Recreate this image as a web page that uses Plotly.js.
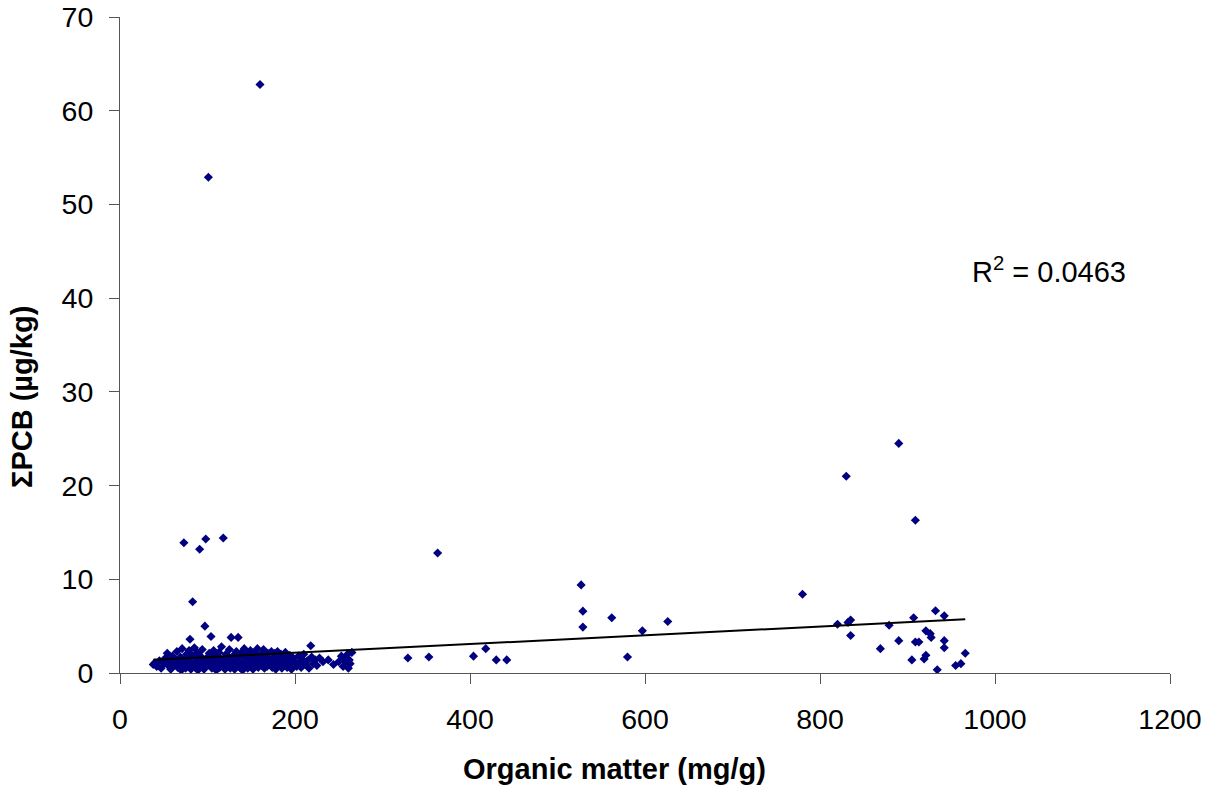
<!DOCTYPE html>
<html>
<head>
<meta charset="utf-8">
<script src="https://cdn.plot.ly/plotly-3.0.1.min.js"></script>
<style>html,body{margin:0;padding:0;background:#fff;}#chart{width:1215px;height:787px;}</style>
</head>
<body>
<div id="chart"></div>
<script>
// Organic matter (mg/g)
const organicMatter = [
  38,40,42,45,47,50,52,54,55,57,58,60,62,63,65,66,68,69,70,71,72,73,74,75,76,77,78,79,80,80,
  81,82,83,84,85,86,87,88,89,90,91,92,93,94,95,96,97,98,99,100,101,102,103,104,105,106,107,108,109,110,
  111,112,113,114,115,116,117,118,119,120,121,122,123,124,125,126,127,128,129,130,131,132,133,134,135,136,137,138,139,140,
  141,142,143,144,145,146,147,148,149,150,151,152,153,154,155,156,157,158,159,160,161,162,163,164,165,166,167,168,169,170,
  171,172,173,174,175,176,177,178,179,180,181,182,183,184,185,186,187,188,189,190,191,192,194,195,196,198,200,202,204,205,
  207,209,210,212,214,216,218,219,221,223,225,228,232,238,244,250,253,255,257,258,260,261,262,263,265,
  329,353,363,404,418,430,442,527,529,529,562,580,597,626,
  780,820,830,832,835,835,869,879,890,890,905,907,909,909,913,919,921,921,926,927,932,934,942,942,942,955,961,966
];
// ΣPCB (µg/kg)
const sumPCB = [
  0.9,1.1,0.7,1.3,0.5,1.0,1.6,2.1,0.8,1.2,0.4,1.8,0.9,1.4,2.3,0.6,1.1,1.7,0.3,2.6,0.9,13.9,1.3,0.5,2.0,1.6,0.8,2.4,3.6,1.2,
  0.4,1.9,7.6,1.0,2.7,0.6,1.5,2.2,0.3,1.1,13.2,1.8,0.7,2.5,1.3,0.4,5.0,14.3,1.6,0.9,52.9,2.1,1.2,3.9,0.5,1.7,2.4,0.8,1.4,0.3,
  1.9,1.0,2.2,0.6,1.5,2.8,0.9,14.4,1.3,0.4,2.0,1.1,0.7,1.7,2.5,0.5,3.8,1.2,0.8,1.9,0.4,1.4,2.3,0.9,3.8,1.6,0.6,2.1,1.0,0.3,
  1.8,2.6,0.7,1.3,2.0,0.5,1.5,1.1,2.4,0.8,1.7,0.4,1.2,2.2,0.9,1.6,2.6,0.6,1.3,62.8,2.0,0.8,1.4,2.5,0.5,1.8,1.1,0.7,2.1,1.5,
  0.9,1.2,2.3,0.6,1.7,1.0,2.1,0.4,1.4,2.3,0.8,1.6,1.1,2.0,0.5,1.3,1.8,0.9,2.2,1.2,0.6,1.5,1.9,1.0,0.4,1.6,1.2,0.7,1.8,1.1,
  0.6,1.4,2.0,0.9,1.3,0.5,2.9,1.7,1.0,1.4,0.8,1.6,1.2,1.4,0.9,1.2,1.8,0.7,1.5,1.2,2.0,0.5,1.4,1.0,2.2,
  1.6,1.7,12.8,1.8,2.6,1.4,1.4,9.4,6.6,4.9,5.9,1.7,4.5,5.5,
  8.4,5.2,21.0,5.4,5.65,4.0,2.6,5.1,24.5,3.45,1.4,5.9,16.3,3.3,3.3,1.5,1.9,4.5,4.2,3.8,6.65,0.35,6.1,3.45,2.7,0.8,1.0,2.1
];
// Linear trend
const trendSlope = 0.00466;
const trendIntercept = 1.227;
const rSquaredText = "R<sup>2</sup> = 0.0463";
const xTitle = "Organic matter (mg/g)";
const yTitle = "ΣPCB (µg/kg)";
const xTickVals = [0,200,400,600,800,1000,1200];
const yTickVals = [0,10,20,30,40,50,60,70];

const xMin = Math.min(...organicMatter), xMax = Math.max(...organicMatter);
const trendX = [xMin, xMax];
const trendY = trendX.map(v => trendSlope * v + trendIntercept);

const font = "Liberation Sans, Arial, sans-serif";
const data = [
  {x: organicMatter, y: sumPCB, type: 'scatter', mode: 'markers',
   marker: {symbol: 'diamond', size: 7, color: '#000080'}, showlegend: false, hoverinfo: 'x+y'},
  {x: trendX, y: trendY, type: 'scatter', mode: 'lines',
   line: {color: '#000000', width: 2}, showlegend: false}
];
const pw = 1215 - 120 - 45, ph = 787 - 17 - 114;
const layout = {
  width: 1215, height: 787,
  margin: {l: 120, r: 45, t: 17, b: 114},
  paper_bgcolor: '#ffffff', plot_bgcolor: '#ffffff',
  font: {family: font, color: '#000000', size: 28.5},
  xaxis: {
    range: [0, 1200], tickvals: xTickVals, ticks: 'outside', ticklen: 10, tickcolor: '#555',
    showline: true, linecolor: '#555', linewidth: 1, showgrid: false, zeroline: false,
    tickfont: {size: 28.5, family: font}, ticklabelstandoff: 11
  },
  yaxis: {
    range: [0, 70], tickvals: yTickVals, ticks: 'outside', ticklen: 10, tickcolor: '#555',
    showline: true, linecolor: '#555', linewidth: 1, showgrid: false, zeroline: false,
    tickfont: {size: 28.5, family: font}, ticklabelstandoff: 10
  },
  annotations: [
    {x: 1062, y: 43, xref: 'x', yref: 'y', text: rSquaredText, showarrow: false,
     font: {size: 29, family: font, color: '#000'}},
    {x: (614 - 120) / pw, y: (673 - 769) / ph, xref: 'paper', yref: 'paper', text: '<b>' + xTitle + '</b>',
     showarrow: false, xanchor: 'center', yanchor: 'middle', borderpad: 0,
     font: {size: 29, family: font, color: '#000'}},
    {x: (22 - 120) / pw, y: (673 - 397) / ph, xref: 'paper', yref: 'paper', text: '<b>' + yTitle + '</b>',
     showarrow: false, textangle: -90, xanchor: 'center', yanchor: 'middle', borderpad: 0,
     font: {size: 29, family: font, color: '#000'}}
  ]
};
Plotly.newPlot('chart', data, layout, {staticPlot: true});
</script>
</body>
</html>
